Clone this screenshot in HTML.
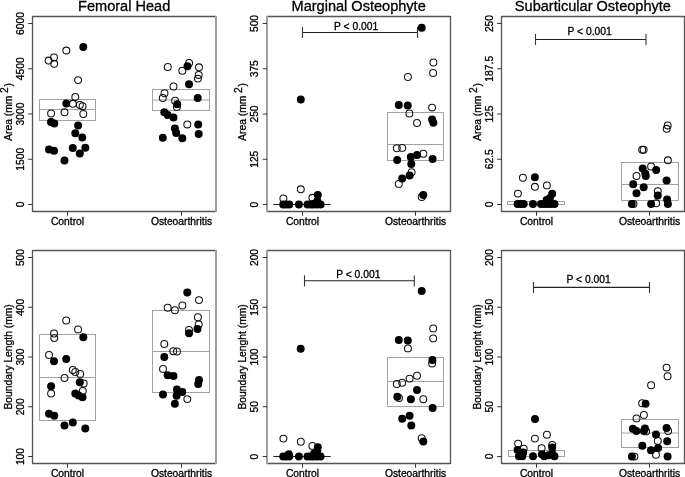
<!DOCTYPE html>
<html><head><meta charset="utf-8"><style>
html,body{margin:0;padding:0;background:#fff;width:685px;height:477px;overflow:hidden}
svg{display:block;will-change:transform}
text{font-family:"Liberation Sans", sans-serif;fill:#000;stroke:#000;stroke-width:0.3px}
</style></head><body>
<svg width="685" height="477" viewBox="0 0 685 477">
<rect width="685" height="477" fill="#fff"/>
<line x1="32.5" y1="16.5" x2="216.0" y2="16.5" stroke="#555" stroke-width="1.3"/>
<line x1="32.5" y1="211.5" x2="216.0" y2="211.5" stroke="#555" stroke-width="1.3"/>
<line x1="32.5" y1="16" x2="32.5" y2="212" stroke="#555" stroke-width="1.3"/>
<line x1="216.0" y1="16" x2="216.0" y2="212" stroke="#9e9e9e" stroke-width="2"/>
<line x1="28.2" y1="204.5" x2="32.5" y2="204.5" stroke="#333" stroke-width="1"/>
<text x="24.2" y="204.5" font-size="10.3" text-anchor="middle" transform="rotate(-90 24.2 204.5)">0</text>
<line x1="28.2" y1="159.25" x2="32.5" y2="159.25" stroke="#333" stroke-width="1"/>
<text x="24.2" y="159.25" font-size="10.3" text-anchor="middle" transform="rotate(-90 24.2 159.25)">1500</text>
<line x1="28.2" y1="114.0" x2="32.5" y2="114.0" stroke="#333" stroke-width="1"/>
<text x="24.2" y="114.0" font-size="10.3" text-anchor="middle" transform="rotate(-90 24.2 114.0)">3000</text>
<line x1="28.2" y1="68.75" x2="32.5" y2="68.75" stroke="#333" stroke-width="1"/>
<text x="24.2" y="68.75" font-size="10.3" text-anchor="middle" transform="rotate(-90 24.2 68.75)">4500</text>
<line x1="28.2" y1="23.5" x2="32.5" y2="23.5" stroke="#333" stroke-width="1"/>
<text x="24.2" y="23.5" font-size="10.3" text-anchor="middle" transform="rotate(-90 24.2 23.5)">6000</text>
<line x1="67.5" y1="211.7" x2="67.5" y2="215.7" stroke="#333" stroke-width="1"/>
<text x="67.5" y="224.6" font-size="10.3" text-anchor="middle">Control</text>
<line x1="181.5" y1="211.7" x2="181.5" y2="215.7" stroke="#333" stroke-width="1"/>
<text x="181.5" y="224.6" font-size="10.3" text-anchor="middle">Osteoarthritis</text>
<text x="11.8" y="111.9" font-size="10.3" text-anchor="middle" transform="rotate(-90 11.8 111.9)">Area (mm<tspan dx="2.6" dy="-4.1">2</tspan><tspan dx="0.9" dy="4.1">)</tspan></text>
<text x="124.15" y="10.8" font-size="14.55" text-anchor="middle">Femoral Head</text>
<line x1="267.0" y1="16.5" x2="450.5" y2="16.5" stroke="#555" stroke-width="1.3"/>
<line x1="267.0" y1="211.5" x2="450.5" y2="211.5" stroke="#555" stroke-width="1.3"/>
<line x1="267.0" y1="16" x2="267.0" y2="212" stroke="#9e9e9e" stroke-width="2"/>
<line x1="450.5" y1="16" x2="450.5" y2="212" stroke="#555" stroke-width="1.3"/>
<line x1="262.7" y1="204.5" x2="267.0" y2="204.5" stroke="#333" stroke-width="1"/>
<text x="258.0" y="204.5" font-size="10.3" text-anchor="middle" transform="rotate(-90 258.0 204.5)">0</text>
<line x1="262.7" y1="159.25" x2="267.0" y2="159.25" stroke="#333" stroke-width="1"/>
<text x="258.0" y="159.25" font-size="10.3" text-anchor="middle" transform="rotate(-90 258.0 159.25)">125</text>
<line x1="262.7" y1="114.0" x2="267.0" y2="114.0" stroke="#333" stroke-width="1"/>
<text x="258.0" y="114.0" font-size="10.3" text-anchor="middle" transform="rotate(-90 258.0 114.0)">250</text>
<line x1="262.7" y1="68.75" x2="267.0" y2="68.75" stroke="#333" stroke-width="1"/>
<text x="258.0" y="68.75" font-size="10.3" text-anchor="middle" transform="rotate(-90 258.0 68.75)">375</text>
<line x1="262.7" y1="23.5" x2="267.0" y2="23.5" stroke="#333" stroke-width="1"/>
<text x="258.0" y="23.5" font-size="10.3" text-anchor="middle" transform="rotate(-90 258.0 23.5)">500</text>
<line x1="302.5" y1="211.7" x2="302.5" y2="215.7" stroke="#333" stroke-width="1"/>
<text x="302.5" y="224.6" font-size="10.3" text-anchor="middle">Control</text>
<line x1="415.5" y1="211.7" x2="415.5" y2="215.7" stroke="#333" stroke-width="1"/>
<text x="415.5" y="224.6" font-size="10.3" text-anchor="middle">Osteoarthritis</text>
<text x="246.3" y="111.9" font-size="10.3" text-anchor="middle" transform="rotate(-90 246.3 111.9)">Area (mm<tspan dx="2.6" dy="-4.1">2</tspan><tspan dx="0.9" dy="4.1">)</tspan></text>
<text x="358.65" y="10.8" font-size="14.55" text-anchor="middle">Marginal Osteophyte</text>
<line x1="501.5" y1="16.5" x2="684.5" y2="16.5" stroke="#555" stroke-width="1.3"/>
<line x1="501.5" y1="211.5" x2="684.5" y2="211.5" stroke="#555" stroke-width="1.3"/>
<line x1="501.5" y1="16" x2="501.5" y2="212" stroke="#555" stroke-width="1.3"/>
<line x1="684.5" y1="16" x2="684.5" y2="212" stroke="#555" stroke-width="1.3"/>
<line x1="497.2" y1="204.5" x2="501.5" y2="204.5" stroke="#333" stroke-width="1"/>
<text x="493.2" y="204.5" font-size="10.3" text-anchor="middle" transform="rotate(-90 493.2 204.5)">0</text>
<line x1="497.2" y1="159.25" x2="501.5" y2="159.25" stroke="#333" stroke-width="1"/>
<text x="493.2" y="159.25" font-size="10.3" text-anchor="middle" transform="rotate(-90 493.2 159.25)">62.5</text>
<line x1="497.2" y1="114.0" x2="501.5" y2="114.0" stroke="#333" stroke-width="1"/>
<text x="493.2" y="114.0" font-size="10.3" text-anchor="middle" transform="rotate(-90 493.2 114.0)">125</text>
<line x1="497.2" y1="68.75" x2="501.5" y2="68.75" stroke="#333" stroke-width="1"/>
<text x="493.2" y="68.75" font-size="10.3" text-anchor="middle" transform="rotate(-90 493.2 68.75)">187.5</text>
<line x1="497.2" y1="23.5" x2="501.5" y2="23.5" stroke="#333" stroke-width="1"/>
<text x="493.2" y="23.5" font-size="10.3" text-anchor="middle" transform="rotate(-90 493.2 23.5)">250</text>
<line x1="536.5" y1="211.7" x2="536.5" y2="215.7" stroke="#333" stroke-width="1"/>
<text x="536.5" y="224.6" font-size="10.3" text-anchor="middle">Control</text>
<line x1="649.5" y1="211.7" x2="649.5" y2="215.7" stroke="#333" stroke-width="1"/>
<text x="649.5" y="224.6" font-size="10.3" text-anchor="middle">Osteoarthritis</text>
<text x="480.8" y="111.9" font-size="10.3" text-anchor="middle" transform="rotate(-90 480.8 111.9)">Area (mm<tspan dx="2.6" dy="-4.1">2</tspan><tspan dx="0.9" dy="4.1">)</tspan></text>
<text x="592.9" y="10.8" font-size="14.55" text-anchor="middle">Subarticular Osteophyte</text>
<line x1="32.5" y1="250.5" x2="216.0" y2="250.5" stroke="#555" stroke-width="1.3"/>
<line x1="32.5" y1="463.5" x2="216.0" y2="463.5" stroke="#555" stroke-width="1.3"/>
<line x1="32.5" y1="250" x2="32.5" y2="464" stroke="#555" stroke-width="1.3"/>
<line x1="216.0" y1="250" x2="216.0" y2="464" stroke="#9e9e9e" stroke-width="2"/>
<line x1="28.2" y1="456.5" x2="32.5" y2="456.5" stroke="#333" stroke-width="1"/>
<text x="24.2" y="456.5" font-size="10.3" text-anchor="middle" transform="rotate(-90 24.2 456.5)">100</text>
<line x1="28.2" y1="406.75" x2="32.5" y2="406.75" stroke="#333" stroke-width="1"/>
<text x="24.2" y="406.75" font-size="10.3" text-anchor="middle" transform="rotate(-90 24.2 406.75)">200</text>
<line x1="28.2" y1="357.0" x2="32.5" y2="357.0" stroke="#333" stroke-width="1"/>
<text x="24.2" y="357.0" font-size="10.3" text-anchor="middle" transform="rotate(-90 24.2 357.0)">300</text>
<line x1="28.2" y1="307.25" x2="32.5" y2="307.25" stroke="#333" stroke-width="1"/>
<text x="24.2" y="307.25" font-size="10.3" text-anchor="middle" transform="rotate(-90 24.2 307.25)">400</text>
<line x1="28.2" y1="257.5" x2="32.5" y2="257.5" stroke="#333" stroke-width="1"/>
<text x="24.2" y="257.5" font-size="10.3" text-anchor="middle" transform="rotate(-90 24.2 257.5)">500</text>
<line x1="67.5" y1="463.7" x2="67.5" y2="467.7" stroke="#333" stroke-width="1"/>
<text x="67.5" y="476.6" font-size="10.3" text-anchor="middle">Control</text>
<line x1="181.5" y1="463.7" x2="181.5" y2="467.7" stroke="#333" stroke-width="1"/>
<text x="181.5" y="476.6" font-size="10.3" text-anchor="middle">Osteoarthritis</text>
<text x="11.8" y="356.9" font-size="10.3" text-anchor="middle" transform="rotate(-90 11.8 356.9)">Boundary Length (mm)</text>
<line x1="267.0" y1="250.5" x2="450.5" y2="250.5" stroke="#555" stroke-width="1.3"/>
<line x1="267.0" y1="463.5" x2="450.5" y2="463.5" stroke="#555" stroke-width="1.3"/>
<line x1="267.0" y1="250" x2="267.0" y2="464" stroke="#9e9e9e" stroke-width="2"/>
<line x1="450.5" y1="250" x2="450.5" y2="464" stroke="#555" stroke-width="1.3"/>
<line x1="262.7" y1="456.5" x2="267.0" y2="456.5" stroke="#333" stroke-width="1"/>
<text x="258.0" y="456.5" font-size="10.3" text-anchor="middle" transform="rotate(-90 258.0 456.5)">0</text>
<line x1="262.7" y1="406.75" x2="267.0" y2="406.75" stroke="#333" stroke-width="1"/>
<text x="258.0" y="406.75" font-size="10.3" text-anchor="middle" transform="rotate(-90 258.0 406.75)">50</text>
<line x1="262.7" y1="357.0" x2="267.0" y2="357.0" stroke="#333" stroke-width="1"/>
<text x="258.0" y="357.0" font-size="10.3" text-anchor="middle" transform="rotate(-90 258.0 357.0)">100</text>
<line x1="262.7" y1="307.25" x2="267.0" y2="307.25" stroke="#333" stroke-width="1"/>
<text x="258.0" y="307.25" font-size="10.3" text-anchor="middle" transform="rotate(-90 258.0 307.25)">150</text>
<line x1="262.7" y1="257.5" x2="267.0" y2="257.5" stroke="#333" stroke-width="1"/>
<text x="258.0" y="257.5" font-size="10.3" text-anchor="middle" transform="rotate(-90 258.0 257.5)">200</text>
<line x1="302.5" y1="463.7" x2="302.5" y2="467.7" stroke="#333" stroke-width="1"/>
<text x="302.5" y="476.6" font-size="10.3" text-anchor="middle">Control</text>
<line x1="415.5" y1="463.7" x2="415.5" y2="467.7" stroke="#333" stroke-width="1"/>
<text x="415.5" y="476.6" font-size="10.3" text-anchor="middle">Osteoarthritis</text>
<text x="246.3" y="356.9" font-size="10.3" text-anchor="middle" transform="rotate(-90 246.3 356.9)">Boundary Lenght (mm)</text>
<line x1="501.5" y1="250.5" x2="684.5" y2="250.5" stroke="#555" stroke-width="1.3"/>
<line x1="501.5" y1="463.5" x2="684.5" y2="463.5" stroke="#555" stroke-width="1.3"/>
<line x1="501.5" y1="250" x2="501.5" y2="464" stroke="#555" stroke-width="1.3"/>
<line x1="684.5" y1="250" x2="684.5" y2="464" stroke="#555" stroke-width="1.3"/>
<line x1="497.2" y1="456.5" x2="501.5" y2="456.5" stroke="#333" stroke-width="1"/>
<text x="493.2" y="456.5" font-size="10.3" text-anchor="middle" transform="rotate(-90 493.2 456.5)">0</text>
<line x1="497.2" y1="406.75" x2="501.5" y2="406.75" stroke="#333" stroke-width="1"/>
<text x="493.2" y="406.75" font-size="10.3" text-anchor="middle" transform="rotate(-90 493.2 406.75)">50</text>
<line x1="497.2" y1="357.0" x2="501.5" y2="357.0" stroke="#333" stroke-width="1"/>
<text x="493.2" y="357.0" font-size="10.3" text-anchor="middle" transform="rotate(-90 493.2 357.0)">100</text>
<line x1="497.2" y1="307.25" x2="501.5" y2="307.25" stroke="#333" stroke-width="1"/>
<text x="493.2" y="307.25" font-size="10.3" text-anchor="middle" transform="rotate(-90 493.2 307.25)">150</text>
<line x1="497.2" y1="257.5" x2="501.5" y2="257.5" stroke="#333" stroke-width="1"/>
<text x="493.2" y="257.5" font-size="10.3" text-anchor="middle" transform="rotate(-90 493.2 257.5)">200</text>
<line x1="536.5" y1="463.7" x2="536.5" y2="467.7" stroke="#333" stroke-width="1"/>
<text x="536.5" y="476.6" font-size="10.3" text-anchor="middle">Control</text>
<line x1="649.5" y1="463.7" x2="649.5" y2="467.7" stroke="#333" stroke-width="1"/>
<text x="649.5" y="476.6" font-size="10.3" text-anchor="middle">Osteoarthritis</text>
<text x="480.8" y="356.9" font-size="10.3" text-anchor="middle" transform="rotate(-90 480.8 356.9)">Boundary Lenght (mm)</text>
<rect x="39.5" y="99.5" width="56.0" height="21.0" fill="none" stroke="#a2a2a2" stroke-width="1"/>
<line x1="39.5" y1="109.5" x2="95.5" y2="109.5" stroke="#a2a2a2" stroke-width="1"/>
<rect x="152.5" y="89.5" width="57.0" height="21.0" fill="none" stroke="#a2a2a2" stroke-width="1"/>
<line x1="152.5" y1="100" x2="209.5" y2="100" stroke="#a2a2a2" stroke-width="1"/>
<line x1="273.4" y1="204.5" x2="330.7" y2="204.5" stroke="#222" stroke-width="1"/>
<rect x="387.5" y="112.5" width="56.0" height="48.0" fill="none" stroke="#a2a2a2" stroke-width="1"/>
<line x1="387.5" y1="144.5" x2="443.5" y2="144.5" stroke="#a2a2a2" stroke-width="1"/>
<rect x="507.5" y="201.5" width="57.0" height="3.0" fill="none" stroke="#a2a2a2" stroke-width="1"/>
<rect x="621.5" y="162.5" width="57.0" height="38.0" fill="none" stroke="#a2a2a2" stroke-width="1"/>
<line x1="621.5" y1="184.5" x2="678.5" y2="184.5" stroke="#a2a2a2" stroke-width="1"/>
<rect x="39.5" y="334.5" width="56.0" height="86.0" fill="none" stroke="#a2a2a2" stroke-width="1"/>
<line x1="39.5" y1="377.5" x2="95.5" y2="377.5" stroke="#a2a2a2" stroke-width="1"/>
<rect x="152.5" y="310.5" width="57.0" height="82.0" fill="none" stroke="#a2a2a2" stroke-width="1"/>
<line x1="152.5" y1="351.5" x2="209.5" y2="351.5" stroke="#a2a2a2" stroke-width="1"/>
<line x1="273.4" y1="456.5" x2="330.7" y2="456.5" stroke="#222" stroke-width="1"/>
<rect x="387.5" y="357.5" width="56.0" height="49.0" fill="none" stroke="#a2a2a2" stroke-width="1"/>
<line x1="387.5" y1="381.5" x2="443.5" y2="381.5" stroke="#a2a2a2" stroke-width="1"/>
<rect x="508.5" y="450.5" width="56.0" height="6.0" fill="none" stroke="#a2a2a2" stroke-width="1"/>
<rect x="621.5" y="419.5" width="57.0" height="28.0" fill="none" stroke="#a2a2a2" stroke-width="1"/>
<line x1="621.5" y1="433" x2="678.5" y2="433" stroke="#a2a2a2" stroke-width="1"/>
<line x1="302.5" y1="32.5" x2="417.5" y2="32.5" stroke="#222" stroke-width="1.1"/>
<line x1="302.5" y1="27" x2="302.5" y2="38" stroke="#333" stroke-width="1.1"/>
<line x1="417.5" y1="27" x2="417.5" y2="38" stroke="#333" stroke-width="1.1"/>
<text x="334.0" y="30.4" font-size="10.3" text-anchor="start">P &lt; 0.001</text>
<line x1="535.5" y1="39.5" x2="646" y2="39.5" stroke="#222" stroke-width="1.1"/>
<line x1="535.5" y1="34" x2="535.5" y2="45" stroke="#333" stroke-width="1.1"/>
<line x1="646" y1="34" x2="646" y2="45" stroke="#333" stroke-width="1.1"/>
<text x="567.5" y="34.8" font-size="10.3" text-anchor="start">P &lt; 0.001</text>
<line x1="304.5" y1="280.8" x2="414.3" y2="280.8" stroke="#222" stroke-width="1.1"/>
<line x1="304.5" y1="275.4" x2="304.5" y2="286.4" stroke="#333" stroke-width="1.1"/>
<line x1="414.3" y1="275.4" x2="414.3" y2="286.4" stroke="#333" stroke-width="1.1"/>
<text x="336.2" y="278.4" font-size="10.3" text-anchor="start">P &lt; 0.001</text>
<line x1="533.5" y1="287.4" x2="649.5" y2="287.4" stroke="#222" stroke-width="1.1"/>
<line x1="533.5" y1="282" x2="533.5" y2="293" stroke="#333" stroke-width="1.1"/>
<line x1="649.5" y1="282" x2="649.5" y2="293" stroke="#333" stroke-width="1.1"/>
<text x="566.5" y="283.1" font-size="10.3" text-anchor="start">P &lt; 0.001</text>
<circle cx="66.3" cy="50.6" r="3.45" fill="none" stroke="#111" stroke-width="1.05"/>
<circle cx="54.0" cy="57.4" r="3.45" fill="none" stroke="#111" stroke-width="1.05"/>
<circle cx="48.6" cy="60.6" r="3.45" fill="none" stroke="#111" stroke-width="1.05"/>
<circle cx="54.2" cy="63.8" r="3.45" fill="none" stroke="#111" stroke-width="1.05"/>
<circle cx="78.1" cy="80.1" r="3.45" fill="none" stroke="#111" stroke-width="1.05"/>
<circle cx="75.3" cy="96.9" r="3.45" fill="none" stroke="#111" stroke-width="1.05"/>
<circle cx="72.8" cy="103.8" r="3.45" fill="none" stroke="#111" stroke-width="1.05"/>
<circle cx="79.9" cy="104.9" r="3.45" fill="none" stroke="#111" stroke-width="1.05"/>
<circle cx="82.6" cy="106.2" r="3.45" fill="none" stroke="#111" stroke-width="1.05"/>
<circle cx="64.5" cy="112.3" r="3.45" fill="none" stroke="#111" stroke-width="1.05"/>
<circle cx="51.1" cy="113.5" r="3.45" fill="none" stroke="#111" stroke-width="1.05"/>
<circle cx="83.3" cy="114.0" r="3.45" fill="none" stroke="#111" stroke-width="1.05"/>
<circle cx="167.8" cy="67.0" r="3.45" fill="none" stroke="#111" stroke-width="1.05"/>
<circle cx="189.1" cy="63.0" r="3.45" fill="none" stroke="#111" stroke-width="1.05"/>
<circle cx="182.3" cy="70.7" r="3.45" fill="none" stroke="#111" stroke-width="1.05"/>
<circle cx="199.0" cy="67.3" r="3.45" fill="none" stroke="#111" stroke-width="1.05"/>
<circle cx="198.7" cy="74.9" r="3.45" fill="none" stroke="#111" stroke-width="1.05"/>
<circle cx="197.9" cy="78.6" r="3.45" fill="none" stroke="#111" stroke-width="1.05"/>
<circle cx="173.5" cy="86.5" r="3.45" fill="none" stroke="#111" stroke-width="1.05"/>
<circle cx="164.5" cy="93.2" r="3.45" fill="none" stroke="#111" stroke-width="1.05"/>
<circle cx="162.8" cy="98.0" r="3.45" fill="none" stroke="#111" stroke-width="1.05"/>
<circle cx="175.1" cy="100.7" r="3.45" fill="none" stroke="#111" stroke-width="1.05"/>
<circle cx="176.9" cy="107.1" r="3.45" fill="none" stroke="#111" stroke-width="1.05"/>
<circle cx="187.3" cy="124.4" r="3.45" fill="none" stroke="#111" stroke-width="1.05"/>
<circle cx="300.8" cy="189.3" r="3.45" fill="none" stroke="#111" stroke-width="1.05"/>
<circle cx="283.4" cy="198.4" r="3.45" fill="none" stroke="#111" stroke-width="1.05"/>
<circle cx="312.4" cy="197.8" r="3.45" fill="none" stroke="#111" stroke-width="1.05"/>
<circle cx="433.4" cy="62.5" r="3.45" fill="none" stroke="#111" stroke-width="1.05"/>
<circle cx="433.1" cy="73.0" r="3.45" fill="none" stroke="#111" stroke-width="1.05"/>
<circle cx="407.9" cy="77.0" r="3.45" fill="none" stroke="#111" stroke-width="1.05"/>
<circle cx="432.1" cy="107.6" r="3.45" fill="none" stroke="#111" stroke-width="1.05"/>
<circle cx="409.4" cy="113.5" r="3.45" fill="none" stroke="#111" stroke-width="1.05"/>
<circle cx="417.0" cy="123.0" r="3.45" fill="none" stroke="#111" stroke-width="1.05"/>
<circle cx="396.8" cy="148.2" r="3.45" fill="none" stroke="#111" stroke-width="1.05"/>
<circle cx="402.2" cy="147.9" r="3.45" fill="none" stroke="#111" stroke-width="1.05"/>
<circle cx="423.3" cy="153.7" r="3.45" fill="none" stroke="#111" stroke-width="1.05"/>
<circle cx="411.6" cy="172.2" r="3.45" fill="none" stroke="#111" stroke-width="1.05"/>
<circle cx="398.8" cy="183.9" r="3.45" fill="none" stroke="#111" stroke-width="1.05"/>
<circle cx="421.7" cy="197.0" r="3.45" fill="none" stroke="#111" stroke-width="1.05"/>
<circle cx="522.9" cy="177.7" r="3.45" fill="none" stroke="#111" stroke-width="1.05"/>
<circle cx="534.9" cy="186.8" r="3.45" fill="none" stroke="#111" stroke-width="1.05"/>
<circle cx="546.9" cy="185.4" r="3.45" fill="none" stroke="#111" stroke-width="1.05"/>
<circle cx="517.9" cy="193.6" r="3.45" fill="none" stroke="#111" stroke-width="1.05"/>
<circle cx="667.7" cy="125.4" r="3.45" fill="none" stroke="#111" stroke-width="1.05"/>
<circle cx="666.7" cy="128.8" r="3.45" fill="none" stroke="#111" stroke-width="1.05"/>
<circle cx="642.2" cy="149.7" r="3.45" fill="none" stroke="#111" stroke-width="1.05"/>
<circle cx="643.6" cy="149.7" r="3.45" fill="none" stroke="#111" stroke-width="1.05"/>
<circle cx="667.9" cy="160.3" r="3.45" fill="none" stroke="#111" stroke-width="1.05"/>
<circle cx="651.1" cy="166.5" r="3.45" fill="none" stroke="#111" stroke-width="1.05"/>
<circle cx="636.5" cy="176.0" r="3.45" fill="none" stroke="#111" stroke-width="1.05"/>
<circle cx="657.8" cy="191.1" r="3.45" fill="none" stroke="#111" stroke-width="1.05"/>
<circle cx="656.2" cy="203.3" r="3.45" fill="none" stroke="#111" stroke-width="1.05"/>
<circle cx="633.5" cy="204.0" r="3.45" fill="none" stroke="#111" stroke-width="1.05"/>
<circle cx="66.2" cy="320.5" r="3.45" fill="none" stroke="#111" stroke-width="1.05"/>
<circle cx="78.1" cy="329.4" r="3.45" fill="none" stroke="#111" stroke-width="1.05"/>
<circle cx="54.0" cy="333.5" r="3.45" fill="none" stroke="#111" stroke-width="1.05"/>
<circle cx="54.3" cy="338.1" r="3.45" fill="none" stroke="#111" stroke-width="1.05"/>
<circle cx="49.0" cy="355.0" r="3.45" fill="none" stroke="#111" stroke-width="1.05"/>
<circle cx="72.8" cy="370.0" r="3.45" fill="none" stroke="#111" stroke-width="1.05"/>
<circle cx="75.3" cy="372.0" r="3.45" fill="none" stroke="#111" stroke-width="1.05"/>
<circle cx="80.2" cy="373.9" r="3.45" fill="none" stroke="#111" stroke-width="1.05"/>
<circle cx="64.5" cy="378.0" r="3.45" fill="none" stroke="#111" stroke-width="1.05"/>
<circle cx="83.7" cy="383.5" r="3.45" fill="none" stroke="#111" stroke-width="1.05"/>
<circle cx="51.1" cy="393.5" r="3.45" fill="none" stroke="#111" stroke-width="1.05"/>
<circle cx="82.8" cy="391.0" r="3.45" fill="none" stroke="#111" stroke-width="1.05"/>
<circle cx="199.0" cy="300.1" r="3.45" fill="none" stroke="#111" stroke-width="1.05"/>
<circle cx="167.7" cy="307.7" r="3.45" fill="none" stroke="#111" stroke-width="1.05"/>
<circle cx="174.9" cy="310.2" r="3.45" fill="none" stroke="#111" stroke-width="1.05"/>
<circle cx="182.4" cy="305.5" r="3.45" fill="none" stroke="#111" stroke-width="1.05"/>
<circle cx="197.9" cy="317.2" r="3.45" fill="none" stroke="#111" stroke-width="1.05"/>
<circle cx="198.7" cy="324.4" r="3.45" fill="none" stroke="#111" stroke-width="1.05"/>
<circle cx="189.0" cy="330.0" r="3.45" fill="none" stroke="#111" stroke-width="1.05"/>
<circle cx="164.3" cy="344.0" r="3.45" fill="none" stroke="#111" stroke-width="1.05"/>
<circle cx="173.3" cy="351.3" r="3.45" fill="none" stroke="#111" stroke-width="1.05"/>
<circle cx="177.0" cy="351.5" r="3.45" fill="none" stroke="#111" stroke-width="1.05"/>
<circle cx="163.0" cy="368.9" r="3.45" fill="none" stroke="#111" stroke-width="1.05"/>
<circle cx="187.3" cy="399.1" r="3.45" fill="none" stroke="#111" stroke-width="1.05"/>
<circle cx="283.4" cy="438.6" r="3.45" fill="none" stroke="#111" stroke-width="1.05"/>
<circle cx="300.8" cy="441.7" r="3.45" fill="none" stroke="#111" stroke-width="1.05"/>
<circle cx="312.4" cy="445.9" r="3.45" fill="none" stroke="#111" stroke-width="1.05"/>
<circle cx="433.2" cy="328.4" r="3.45" fill="none" stroke="#111" stroke-width="1.05"/>
<circle cx="433.2" cy="338.4" r="3.45" fill="none" stroke="#111" stroke-width="1.05"/>
<circle cx="407.9" cy="348.4" r="3.45" fill="none" stroke="#111" stroke-width="1.05"/>
<circle cx="432.1" cy="363.5" r="3.45" fill="none" stroke="#111" stroke-width="1.05"/>
<circle cx="417.0" cy="375.8" r="3.45" fill="none" stroke="#111" stroke-width="1.05"/>
<circle cx="409.6" cy="378.6" r="3.45" fill="none" stroke="#111" stroke-width="1.05"/>
<circle cx="402.2" cy="382.7" r="3.45" fill="none" stroke="#111" stroke-width="1.05"/>
<circle cx="396.8" cy="384.0" r="3.45" fill="none" stroke="#111" stroke-width="1.05"/>
<circle cx="399.0" cy="398.0" r="3.45" fill="none" stroke="#111" stroke-width="1.05"/>
<circle cx="423.3" cy="399.2" r="3.45" fill="none" stroke="#111" stroke-width="1.05"/>
<circle cx="421.7" cy="438.3" r="3.45" fill="none" stroke="#111" stroke-width="1.05"/>
<circle cx="546.9" cy="434.7" r="3.45" fill="none" stroke="#111" stroke-width="1.05"/>
<circle cx="534.9" cy="438.6" r="3.45" fill="none" stroke="#111" stroke-width="1.05"/>
<circle cx="518.1" cy="443.8" r="3.45" fill="none" stroke="#111" stroke-width="1.05"/>
<circle cx="523.7" cy="448.7" r="3.45" fill="none" stroke="#111" stroke-width="1.05"/>
<circle cx="541.6" cy="448.2" r="3.45" fill="none" stroke="#111" stroke-width="1.05"/>
<circle cx="552.2" cy="445.0" r="3.45" fill="none" stroke="#111" stroke-width="1.05"/>
<circle cx="666.6" cy="367.6" r="3.45" fill="none" stroke="#111" stroke-width="1.05"/>
<circle cx="667.6" cy="376.3" r="3.45" fill="none" stroke="#111" stroke-width="1.05"/>
<circle cx="651.1" cy="385.2" r="3.45" fill="none" stroke="#111" stroke-width="1.05"/>
<circle cx="642.2" cy="403.2" r="3.45" fill="none" stroke="#111" stroke-width="1.05"/>
<circle cx="643.9" cy="414.9" r="3.45" fill="none" stroke="#111" stroke-width="1.05"/>
<circle cx="636.5" cy="418.4" r="3.45" fill="none" stroke="#111" stroke-width="1.05"/>
<circle cx="646.1" cy="431.4" r="3.45" fill="none" stroke="#111" stroke-width="1.05"/>
<circle cx="668.1" cy="431.0" r="3.45" fill="none" stroke="#111" stroke-width="1.05"/>
<circle cx="657.8" cy="440.9" r="3.45" fill="none" stroke="#111" stroke-width="1.05"/>
<circle cx="656.0" cy="454.8" r="3.45" fill="none" stroke="#111" stroke-width="1.05"/>
<circle cx="634.4" cy="456.6" r="3.45" fill="none" stroke="#111" stroke-width="1.05"/>
<circle cx="83.3" cy="46.9" r="3.98" fill="#000"/>
<circle cx="66.3" cy="103.4" r="3.98" fill="#000"/>
<circle cx="51.0" cy="121.9" r="3.98" fill="#000"/>
<circle cx="54.3" cy="123.5" r="3.98" fill="#000"/>
<circle cx="78.1" cy="125.6" r="3.98" fill="#000"/>
<circle cx="75.3" cy="133.3" r="3.98" fill="#000"/>
<circle cx="82.3" cy="137.6" r="3.98" fill="#000"/>
<circle cx="49.0" cy="149.4" r="3.98" fill="#000"/>
<circle cx="54.0" cy="150.7" r="3.98" fill="#000"/>
<circle cx="72.8" cy="147.9" r="3.98" fill="#000"/>
<circle cx="85.3" cy="147.7" r="3.98" fill="#000"/>
<circle cx="79.8" cy="153.4" r="3.98" fill="#000"/>
<circle cx="64.5" cy="160.4" r="3.98" fill="#000"/>
<circle cx="187.5" cy="66.3" r="3.98" fill="#000"/>
<circle cx="189.0" cy="84.3" r="3.98" fill="#000"/>
<circle cx="197.7" cy="98.0" r="3.98" fill="#000"/>
<circle cx="177.2" cy="104.2" r="3.98" fill="#000"/>
<circle cx="164.3" cy="112.2" r="3.98" fill="#000"/>
<circle cx="167.7" cy="114.9" r="3.98" fill="#000"/>
<circle cx="173.5" cy="117.6" r="3.98" fill="#000"/>
<circle cx="198.2" cy="124.4" r="3.98" fill="#000"/>
<circle cx="174.9" cy="128.4" r="3.98" fill="#000"/>
<circle cx="176.2" cy="132.9" r="3.98" fill="#000"/>
<circle cx="198.7" cy="134.1" r="3.98" fill="#000"/>
<circle cx="162.8" cy="137.8" r="3.98" fill="#000"/>
<circle cx="182.3" cy="138.3" r="3.98" fill="#000"/>
<circle cx="300.8" cy="99.5" r="3.98" fill="#000"/>
<circle cx="317.8" cy="195.0" r="3.98" fill="#000"/>
<circle cx="317.3" cy="201.0" r="3.98" fill="#000"/>
<circle cx="314.1" cy="203.8" r="3.98" fill="#000"/>
<circle cx="283.2" cy="204.5" r="3.98" fill="#000"/>
<circle cx="286.0" cy="204.5" r="3.98" fill="#000"/>
<circle cx="289.3" cy="204.5" r="3.98" fill="#000"/>
<circle cx="298.9" cy="204.5" r="3.98" fill="#000"/>
<circle cx="307.5" cy="204.5" r="3.98" fill="#000"/>
<circle cx="310.8" cy="204.5" r="3.98" fill="#000"/>
<circle cx="313.5" cy="204.5" r="3.98" fill="#000"/>
<circle cx="317.0" cy="204.5" r="3.98" fill="#000"/>
<circle cx="320.6" cy="204.5" r="3.98" fill="#000"/>
<circle cx="421.7" cy="27.7" r="3.98" fill="#000"/>
<circle cx="398.8" cy="105.1" r="3.98" fill="#000"/>
<circle cx="407.7" cy="105.6" r="3.98" fill="#000"/>
<circle cx="432.1" cy="119.4" r="3.98" fill="#000"/>
<circle cx="433.4" cy="122.7" r="3.98" fill="#000"/>
<circle cx="417.0" cy="154.9" r="3.98" fill="#000"/>
<circle cx="410.8" cy="157.1" r="3.98" fill="#000"/>
<circle cx="397.2" cy="159.9" r="3.98" fill="#000"/>
<circle cx="432.6" cy="159.1" r="3.98" fill="#000"/>
<circle cx="411.3" cy="164.0" r="3.98" fill="#000"/>
<circle cx="409.6" cy="175.6" r="3.98" fill="#000"/>
<circle cx="402.2" cy="178.6" r="3.98" fill="#000"/>
<circle cx="423.3" cy="195.0" r="3.98" fill="#000"/>
<circle cx="534.9" cy="177.3" r="3.98" fill="#000"/>
<circle cx="552.2" cy="193.8" r="3.98" fill="#000"/>
<circle cx="549.9" cy="198.0" r="3.98" fill="#000"/>
<circle cx="546.6" cy="199.9" r="3.98" fill="#000"/>
<circle cx="517.6" cy="204.0" r="3.98" fill="#000"/>
<circle cx="520.4" cy="204.0" r="3.98" fill="#000"/>
<circle cx="523.7" cy="204.0" r="3.98" fill="#000"/>
<circle cx="533.0" cy="204.0" r="3.98" fill="#000"/>
<circle cx="541.0" cy="204.0" r="3.98" fill="#000"/>
<circle cx="544.3" cy="204.0" r="3.98" fill="#000"/>
<circle cx="547.5" cy="204.0" r="3.98" fill="#000"/>
<circle cx="550.8" cy="204.0" r="3.98" fill="#000"/>
<circle cx="554.5" cy="204.0" r="3.98" fill="#000"/>
<circle cx="642.7" cy="168.4" r="3.98" fill="#000"/>
<circle cx="656.2" cy="169.9" r="3.98" fill="#000"/>
<circle cx="645.3" cy="173.6" r="3.98" fill="#000"/>
<circle cx="645.8" cy="176.0" r="3.98" fill="#000"/>
<circle cx="666.6" cy="180.5" r="3.98" fill="#000"/>
<circle cx="633.2" cy="184.3" r="3.98" fill="#000"/>
<circle cx="643.7" cy="187.2" r="3.98" fill="#000"/>
<circle cx="636.5" cy="193.3" r="3.98" fill="#000"/>
<circle cx="657.8" cy="195.6" r="3.98" fill="#000"/>
<circle cx="667.1" cy="199.5" r="3.98" fill="#000"/>
<circle cx="667.9" cy="204.0" r="3.98" fill="#000"/>
<circle cx="651.1" cy="204.0" r="3.98" fill="#000"/>
<circle cx="631.8" cy="204.0" r="3.98" fill="#000"/>
<circle cx="83.3" cy="337.2" r="3.98" fill="#000"/>
<circle cx="54.0" cy="361.2" r="3.98" fill="#000"/>
<circle cx="66.2" cy="359.0" r="3.98" fill="#000"/>
<circle cx="79.8" cy="382.3" r="3.98" fill="#000"/>
<circle cx="51.1" cy="386.2" r="3.98" fill="#000"/>
<circle cx="75.3" cy="393.5" r="3.98" fill="#000"/>
<circle cx="78.6" cy="395.6" r="3.98" fill="#000"/>
<circle cx="82.5" cy="397.2" r="3.98" fill="#000"/>
<circle cx="49.0" cy="413.7" r="3.98" fill="#000"/>
<circle cx="54.3" cy="415.7" r="3.98" fill="#000"/>
<circle cx="72.8" cy="422.4" r="3.98" fill="#000"/>
<circle cx="64.5" cy="425.4" r="3.98" fill="#000"/>
<circle cx="85.3" cy="428.4" r="3.98" fill="#000"/>
<circle cx="187.3" cy="292.6" r="3.98" fill="#000"/>
<circle cx="197.5" cy="329.0" r="3.98" fill="#000"/>
<circle cx="189.0" cy="333.3" r="3.98" fill="#000"/>
<circle cx="164.3" cy="357.0" r="3.98" fill="#000"/>
<circle cx="167.7" cy="375.3" r="3.98" fill="#000"/>
<circle cx="173.5" cy="376.1" r="3.98" fill="#000"/>
<circle cx="199.0" cy="380.0" r="3.98" fill="#000"/>
<circle cx="198.2" cy="384.0" r="3.98" fill="#000"/>
<circle cx="176.9" cy="389.5" r="3.98" fill="#000"/>
<circle cx="182.3" cy="392.1" r="3.98" fill="#000"/>
<circle cx="163.0" cy="394.6" r="3.98" fill="#000"/>
<circle cx="176.6" cy="395.7" r="3.98" fill="#000"/>
<circle cx="174.9" cy="403.8" r="3.98" fill="#000"/>
<circle cx="300.7" cy="348.8" r="3.98" fill="#000"/>
<circle cx="317.8" cy="447.3" r="3.98" fill="#000"/>
<circle cx="317.3" cy="451.0" r="3.98" fill="#000"/>
<circle cx="314.1" cy="453.5" r="3.98" fill="#000"/>
<circle cx="288.8" cy="454.3" r="3.98" fill="#000"/>
<circle cx="283.2" cy="456.4" r="3.98" fill="#000"/>
<circle cx="286.0" cy="456.4" r="3.98" fill="#000"/>
<circle cx="289.3" cy="456.4" r="3.98" fill="#000"/>
<circle cx="298.9" cy="456.4" r="3.98" fill="#000"/>
<circle cx="307.5" cy="456.4" r="3.98" fill="#000"/>
<circle cx="310.8" cy="456.4" r="3.98" fill="#000"/>
<circle cx="313.5" cy="456.4" r="3.98" fill="#000"/>
<circle cx="317.0" cy="456.4" r="3.98" fill="#000"/>
<circle cx="320.6" cy="456.4" r="3.98" fill="#000"/>
<circle cx="421.7" cy="291.0" r="3.98" fill="#000"/>
<circle cx="398.8" cy="340.1" r="3.98" fill="#000"/>
<circle cx="407.8" cy="340.4" r="3.98" fill="#000"/>
<circle cx="432.4" cy="359.9" r="3.98" fill="#000"/>
<circle cx="417.0" cy="390.0" r="3.98" fill="#000"/>
<circle cx="397.3" cy="396.8" r="3.98" fill="#000"/>
<circle cx="410.9" cy="399.2" r="3.98" fill="#000"/>
<circle cx="432.6" cy="408.0" r="3.98" fill="#000"/>
<circle cx="409.6" cy="415.7" r="3.98" fill="#000"/>
<circle cx="402.2" cy="418.8" r="3.98" fill="#000"/>
<circle cx="411.3" cy="425.6" r="3.98" fill="#000"/>
<circle cx="423.3" cy="441.5" r="3.98" fill="#000"/>
<circle cx="535.0" cy="419.1" r="3.98" fill="#000"/>
<circle cx="552.2" cy="447.5" r="3.98" fill="#000"/>
<circle cx="517.6" cy="450.1" r="3.98" fill="#000"/>
<circle cx="523.2" cy="452.4" r="3.98" fill="#000"/>
<circle cx="552.2" cy="453.4" r="3.98" fill="#000"/>
<circle cx="541.9" cy="454.3" r="3.98" fill="#000"/>
<circle cx="548.5" cy="455.2" r="3.98" fill="#000"/>
<circle cx="519.0" cy="456.3" r="3.98" fill="#000"/>
<circle cx="522.3" cy="456.3" r="3.98" fill="#000"/>
<circle cx="533.0" cy="456.3" r="3.98" fill="#000"/>
<circle cx="544.3" cy="456.3" r="3.98" fill="#000"/>
<circle cx="554.5" cy="456.3" r="3.98" fill="#000"/>
<circle cx="645.6" cy="403.7" r="3.98" fill="#000"/>
<circle cx="632.9" cy="428.8" r="3.98" fill="#000"/>
<circle cx="636.4" cy="431.0" r="3.98" fill="#000"/>
<circle cx="645.0" cy="428.4" r="3.98" fill="#000"/>
<circle cx="643.9" cy="431.0" r="3.98" fill="#000"/>
<circle cx="666.6" cy="428.0" r="3.98" fill="#000"/>
<circle cx="656.0" cy="434.4" r="3.98" fill="#000"/>
<circle cx="667.2" cy="441.2" r="3.98" fill="#000"/>
<circle cx="642.3" cy="445.8" r="3.98" fill="#000"/>
<circle cx="658.1" cy="448.0" r="3.98" fill="#000"/>
<circle cx="651.0" cy="450.3" r="3.98" fill="#000"/>
<circle cx="631.9" cy="456.6" r="3.98" fill="#000"/>
<circle cx="667.6" cy="456.6" r="3.98" fill="#000"/>
</svg>
</body></html>
